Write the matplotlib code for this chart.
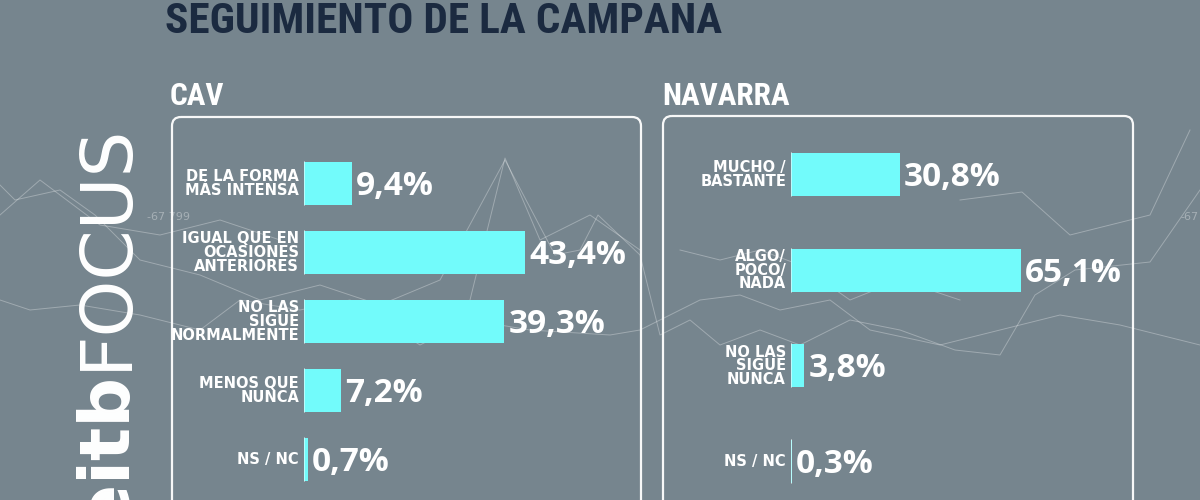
import matplotlib
matplotlib.use('Agg')
import matplotlib.pyplot as plt
import matplotlib.font_manager as fm
from matplotlib.patches import FancyBboxPatch

# ---------------- data ----------------
title = 'SEGUIMIENTO DE LA CAMPAÑA'

cav_title = 'CAV'
cav_cats = ['DE LA FORMA\nMÁS INTENSA',
            'IGUAL QUE EN\nOCASIONES\nANTERIORES',
            'NO LAS\nSIGUE\nNORMALMENTE',
            'MENOS QUE\nNUNCA',
            'NS / NC']
cav_vals = [9.4, 43.4, 39.3, 7.2, 0.7]

nav_title = 'NAVARRA'
nav_cats = ['MUCHO /\nBASTANTE',
            'ALGO/\nPOCO/\nNADA',
            'NO LAS\nSIGUE\nNUNCA',
            'NS / NC']
nav_vals = [30.8, 65.1, 3.8, 0.3]

logo_bold = 'eitb'
logo_light = 'FOCUS'

# decorative background network (pixel coords)
decor_lines = [
    [(0, 185), (15, 200), (60, 190), (95, 215), (140, 260), (200, 275), (260, 300), (320, 285),
     (380, 305), (440, 280), (505, 160), (555, 255), (580, 250), (598, 215), (640, 255), (660, 335),
     (690, 320), (720, 345), (760, 330), (800, 345), (850, 320), (900, 330), (955, 350), (1000, 355),
     (1035, 295), (1075, 270), (1150, 262), (1200, 190)],
    [(0, 300), (30, 310), (80, 305), (140, 315), (200, 330), (240, 300), (300, 310), (350, 300),
     (420, 345), (470, 320), (530, 330), (610, 335), (640, 330), (700, 300), (740, 295), (780, 310),
     (830, 300), (870, 330), (940, 345), (1000, 330), (1060, 315), (1120, 325), (1200, 345)],
    [(470, 300), (505, 158), (540, 240), (590, 215), (640, 250)],
    [(0, 215), (40, 180), (100, 225), (160, 235), (220, 220), (280, 240)],
    [(960, 200), (1022, 192), (1070, 235), (1150, 215), (1190, 130)],
    [(680, 250), (720, 260), (760, 250), (800, 265), (850, 300), (900, 280), (960, 300)],
]

BG = '#76858e'
BAR = '#72fbfb'
TITLE_C = '#1b2a40'
W, H = 1200, 500

# ---- pick a condensed face for the headline texts, if one is installed ----
cond_family = 'DejaVu Sans'
cond_stretch = 'normal'
preferred = ['Roboto Condensed', 'Open Sans Condensed', 'Liberation Sans Narrow',
             'Noto Sans Condensed', 'DejaVu Sans Condensed', 'Ubuntu Condensed', 'Arial Narrow']
names = {f.name for f in fm.fontManager.ttflist}
found = [p for p in preferred if p in names]
if found:
    cond_family = found[0]
else:
    for f in fm.fontManager.ttflist:
        if ('Condensed' in f.name or 'Narrow' in f.name or
                f.stretch in ('condensed', 'semi-condensed', 'extra-condensed', 'ultra-condensed')) \
                and 'CJK' not in f.name and 'Mono' not in f.name:
            cond_family = f.name
            cond_stretch = f.stretch if isinstance(f.stretch, str) else 'normal'
            break

fig = plt.figure(figsize=(12, 5), dpi=100, facecolor=BG)
bg = fig.add_axes([0, 0, 1, 1])
bg.set_xlim(0, W)
bg.set_ylim(H, 0)
bg.axis('off')
bg.set_zorder(0)

for line in decor_lines:
    xs = [p[0] for p in line]
    ys = [p[1] for p in line]
    bg.plot(xs, ys, color='white', lw=0.7, alpha=0.3)
bg.text(147, 220, '-67 799', color='white', alpha=0.35, fontsize=8, family='DejaVu Sans')
bg.text(1180, 220, '-67', color='white', alpha=0.35, fontsize=8, family='DejaVu Sans')

renderer = fig.canvas.get_renderer()


def fit_width(t, target):
    bb = t.get_window_extent(renderer)
    t.set_fontsize(t.get_fontsize() * target / bb.width)


# title
t_title = bg.text(165, 33, title, color=TITLE_C, fontsize=31, fontweight='bold',
                  family=[cond_family, 'DejaVu Sans'], fontstretch=cond_stretch,
                  ha='left', va='baseline')
fit_width(t_title, 557)

# panel titles
t_nav = bg.text(662, 105, nav_title, color='white', fontsize=23, fontweight='bold',
                family=[cond_family, 'DejaVu Sans'], fontstretch=cond_stretch,
                ha='left', va='baseline')
fit_width(t_nav, 128)
bg.text(170, 105, cav_title, color='white', fontsize=t_nav.get_fontsize(), fontweight='bold',
        family=[cond_family, 'DejaVu Sans'], fontstretch=cond_stretch,
        ha='left', va='baseline')

# boxes
for x0, x1, y0 in [(172, 641, 117), (663, 1133, 116)]:
    bg.add_patch(FancyBboxPatch((x0, y0), x1 - x0, 420,
                                boxstyle='round,pad=0,rounding_size=9',
                                fill=False, ec='white', lw=1.6, alpha=0.95))

# logo (rotated)
bg.text(126, 370, logo_light, rotation=90, rotation_mode='anchor', ha='left', va='baseline',
        color='white', fontsize=52, family='DejaVu Sans', fontweight='normal')
bg.text(127, 374, logo_bold, rotation=90, rotation_mode='anchor', ha='right', va='baseline',
        color='white', fontsize=50, family='DejaVu Sans', fontweight='bold')


def px_axes(x0, x1, y0, y1):
    return fig.add_axes([x0 / W, 1 - y1 / H, (x1 - x0) / W, (y1 - y0) / H])


def panel(ax, cats, vals, h):
    n = len(vals)
    ax.barh(range(n), vals, height=h, color=BAR, zorder=2)
    for i in range(n):
        ax.plot([0, 0], [i - h / 2, i + h / 2], color='white', lw=1.2, alpha=0.6, zorder=3)
    for i, (c, v) in enumerate(zip(cats, vals)):
        ax.annotate(f'{v:.1f}'.replace('.', ',') + '%', xy=(v, i), xytext=(4, -11.5),
                    textcoords='offset pixels', ha='left', va='baseline',
                    fontsize=24, fontweight='bold', family='Open Sans', color='white',
                    annotation_clip=False)
        ax.annotate(c, xy=(0, i), xytext=(-5, 0), textcoords='offset pixels',
                    ha='right', va='center', multialignment='right',
                    fontsize=10.5, fontweight='bold', family='DejaVu Sans',
                    linespacing=0.9, color='white', annotation_clip=False)
    ax.set_facecolor('none')
    ax.axis('off')


# CAV: 5.1 px per %, bar pitch 69 px, first centre at y=183.5
ax1 = px_axes(304, 641, 117, 500)
ax1.set_xlim(0, 337 / 5.1)
ax1.set_ylim((500 - 183.5) / 69, -(183.5 - 117) / 69)
panel(ax1, cav_cats, cav_vals, 43 / 69)

# Navarra: 3.53 px per %, bar pitch 95.7 px, first centre at y=174.5
ax2 = px_axes(791, 1133, 116, 500)
ax2.set_xlim(0, 342 / 3.53)
ax2.set_ylim((500 - 174.5) / 95.7, -(174.5 - 116) / 95.7)
panel(ax2, nav_cats, nav_vals, 43 / 95.7)

fig.savefig('out.png', dpi=100, facecolor=BG)
